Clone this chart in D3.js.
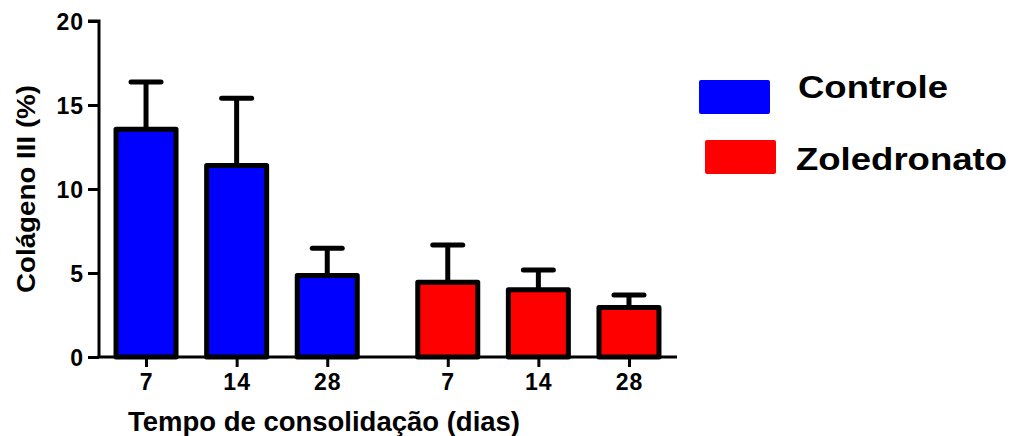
<!DOCTYPE html>
<html>
<head>
<meta charset="utf-8">
<script src="https://cdn.jsdelivr.net/npm/d3@7"></script>
<style>
  html, body { margin: 0; padding: 0; background: #fff; }
  svg { display: block; }
  text { font-family: "Liberation Sans", Arial, Helvetica, sans-serif; font-weight: bold; fill: #000; }
</style>
</head>
<body>
<svg id="chart" width="1013" height="436"></svg>
<script>
// ---- data ----
const groups = ["Controle", "Zoledronato"];
const days = ["7", "14", "28"];
const controleMeans = [13.55, 11.4, 4.85];
const controleUpper = [16.37, 15.4, 6.47];
const zoledronatoMeans = [4.45, 4.0, 2.95];
const zoledronatoUpper = [6.67, 5.18, 3.69];
const yTicks = [0, 5, 10, 15, 20];
const groupColors = ["#0000ff", "#ff0000"];

const yTitle = "Colágeno III (%)";
const xTitle = "Tempo de consolidação (dias)";

// ---- build rows ----
const groupGap = 0.33;
const rows = [];
[controleMeans, zoledronatoMeans].forEach((means, g) => {
  const upper = g === 0 ? controleUpper : zoledronatoUpper;
  means.forEach((m, i) => {
    rows.push({ group: g, day: days[i], mean: m, upper: upper[i], pos: g * (days.length + groupGap) + i });
  });
});

const svg = d3.select("#chart");

const x = d3.scaleLinear().domain([-0.519, 5.86]).range([99, 677]);
const y = d3.scaleLinear().domain([0, 20]).range([357, 21]);

const barW = 60;

// error bars
const eb = svg.append("g");
eb.selectAll("line.stem").data(rows).join("line")
  .attr("x1", d => x(d.pos)).attr("x2", d => x(d.pos))
  .attr("y1", d => y(d.mean)).attr("y2", d => y(d.upper))
  .attr("stroke", "#000").attr("stroke-width", 5);
eb.selectAll("line.cap").data(rows).join("line")
  .attr("x1", d => x(d.pos) - 15).attr("x2", d => x(d.pos) + 15)
  .attr("y1", d => y(d.upper)).attr("y2", d => y(d.upper))
  .attr("stroke", "#000").attr("stroke-width", 5).attr("stroke-linecap", "round");

// bars
svg.append("g").selectAll("rect").data(rows).join("rect")
  .attr("x", d => x(d.pos) - barW / 2)
  .attr("width", barW)
  .attr("y", d => y(d.mean))
  .attr("height", d => y(0) - y(d.mean))
  .attr("fill", d => groupColors[d.group])
  .attr("stroke", "#000")
  .attr("stroke-width", 5)
  .attr("stroke-linejoin", "round");

// y axis
const yAxis = d3.axisLeft(y).tickValues(yTicks).tickSize(11).tickPadding(4).tickFormat(d3.format("d"));
const yg = svg.append("g").attr("transform", "translate(99,0)").call(yAxis);
yg.select(".domain").attr("stroke", "#000").attr("stroke-width", 3).attr("d", `M-11,${y(20)}H0V${y(0)}`);
yg.selectAll(".tick line").attr("stroke", "#000").attr("stroke-width", 3);
yg.selectAll(".tick text").style("font-size", "23px").style("letter-spacing", "1px").attr("dy", "0.36em");

// x axis
const xAxis = d3.axisBottom(x).tickValues(rows.map(d => d.pos)).tickSize(10).tickPadding(6)
  .tickFormat((d, i) => rows[i].day);
const xg = svg.append("g").attr("transform", `translate(0,${y(0)})`).call(xAxis);
xg.select(".domain").attr("stroke", "#000").attr("stroke-width", 3).attr("d", `M97.5,0H677`);
xg.selectAll(".tick line").attr("stroke", "#000").attr("stroke-width", 3);
xg.selectAll(".tick text").style("font-size", "23px").style("letter-spacing", "1px").attr("dy", "0.75em");

// axis titles
svg.append("text")
  .attr("transform", "translate(35,189) rotate(-90)")
  .attr("text-anchor", "middle")
  .attr("textLength", 208).attr("lengthAdjust", "spacingAndGlyphs")
  .style("font-size", "25px")
  .text(yTitle);

svg.append("text")
  .attr("x", 128).attr("y", 431)
  .attr("textLength", 392).attr("lengthAdjust", "spacingAndGlyphs")
  .style("font-size", "28px")
  .text(xTitle);

// legend
const legendItems = [
  { name: groups[0], color: groupColors[0], sx: 699, sy: 80, tx: 798, ty: 98, tl: 150 },
  { name: groups[1], color: groupColors[1], sx: 705, sy: 140, tx: 796, ty: 170, tl: 211 }
];
const lg = svg.append("g");
lg.selectAll("rect").data(legendItems).join("rect")
  .attr("x", d => d.sx).attr("y", d => d.sy)
  .attr("width", 71).attr("height", 34).attr("rx", 2)
  .attr("fill", d => d.color);
lg.selectAll("text").data(legendItems).join("text")
  .attr("x", d => d.tx).attr("y", d => d.ty)
  .attr("textLength", d => d.tl).attr("lengthAdjust", "spacingAndGlyphs")
  .style("font-size", "32px")
  .text(d => d.name);
</script>
</body>
</html>
